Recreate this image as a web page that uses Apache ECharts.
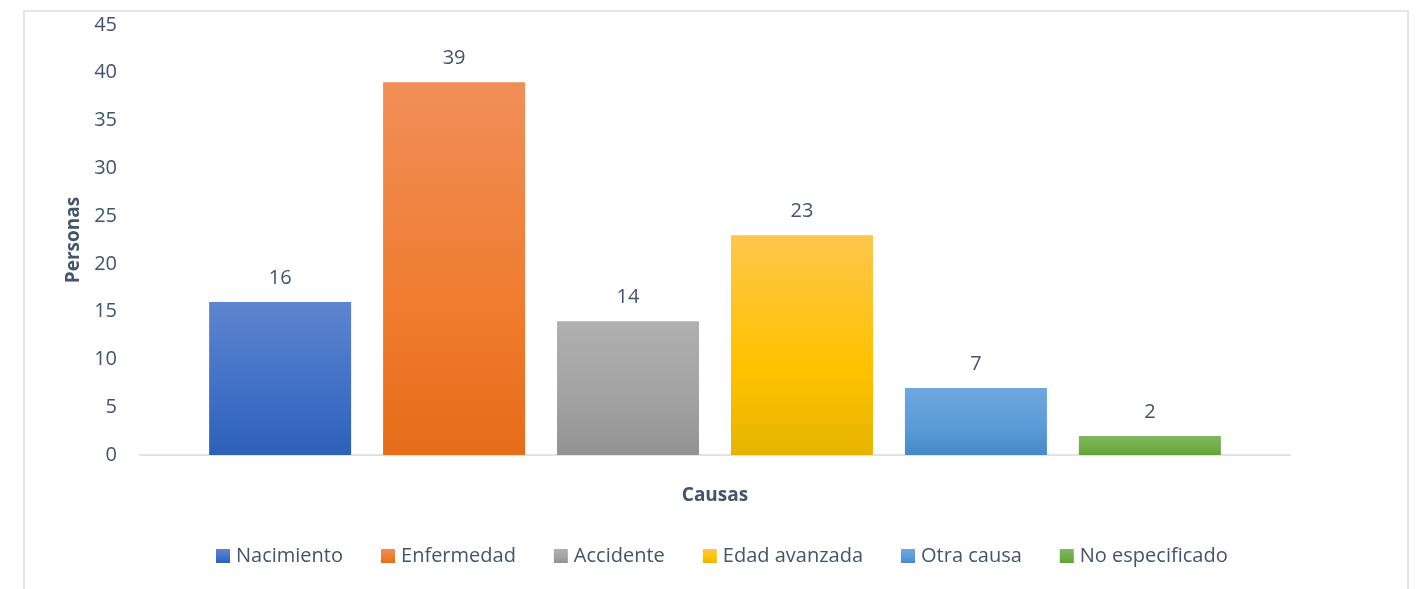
<!DOCTYPE html>
<html>
<head>
<meta charset="utf-8">
<script src="https://cdn.jsdelivr.net/npm/echarts@6/dist/echarts.min.js"></script>
<style>
  html, body { margin: 0; padding: 0; background: #fff; }
  #wrap { position: relative; width: 1417px; height: 589px; overflow: hidden; }
  #frame {
    position: absolute; left: 23px; top: 10px; width: 1386px; height: 600px;
    border: 2px solid #e1e6ec; box-sizing: border-box;
  }
  #chart { position: absolute; left: 0; top: 0; width: 1417px; height: 589px; }
</style>
</head>
<body>
<div id="wrap">
  <div id="frame"></div>
  <div id="chart"></div>
</div>
<script>
// causas (cada una es una serie, como en el original)
const causas = ['Nacimiento', 'Enfermedad', 'Accidente', 'Edad avanzada', 'Otra causa', 'No especificado']
const personas = [16, 39, 14, 23, 7, 2]
const yTicks = [0, 5, 10, 15, 20, 25, 30, 35, 40, 45]

// degradado: claro arriba, color base, más oscuro abajo
const colores = [
  ['#5e85cf', '#3f6fc6', '#2f60b8'],
  ['#f18e58', '#f07c2f', '#e66c18'],
  ['#b0b0b0', '#a2a2a2', '#929292'],
  ['#ffc64c', '#ffc200', '#e6b400'],
  ['#6ea8de', '#5a9ad9', '#4689c8'],
  ['#80b862', '#70ad47', '#62a336']
]

const textColor = '#44546a'
const font = '"Open Sans", "Noto Sans", sans-serif'

const chart = echarts.init(document.getElementById('chart'), null, { renderer: 'canvas' })

chart.setOption({
  backgroundColor: 'transparent',
  animation: false,
  textStyle: { fontFamily: font },
  grid: { left: 140, right: 127, top: 25, bottom: 134 },
  legend: {
    data: causas,
    left: 211,
    top: 541,
    itemWidth: 14,
    itemHeight: 14,
    itemGap: 38,
    icon: 'rect',
    textStyle: { color: textColor, fontSize: 20, fontFamily: font, padding: [0, 0, 0, 1] }
  },
  xAxis: {
    type: 'category',
    data: [''],
    name: 'Causas',
    nameLocation: 'middle',
    nameGap: 31,
    nameTextStyle: { color: textColor, fontSize: 19, fontWeight: 'bold', fontFamily: font },
    axisLine: { lineStyle: { color: '#dfe3e8', width: 2 } },
    axisTick: { show: false },
    axisLabel: { show: false }
  },
  yAxis: {
    type: 'value',
    min: yTicks[0],
    max: yTicks[yTicks.length - 1],
    interval: 5,
    name: 'Personas',
    nameLocation: 'middle',
    nameGap: 57,
    nameTextStyle: { color: textColor, fontSize: 19, fontWeight: 'bold', fontFamily: font },
    axisLine: { show: false },
    axisTick: { show: false },
    splitLine: { show: false },
    axisLabel: { color: textColor, fontSize: 20, margin: 23, fontFamily: font }
  },
  series: causas.map((c, i) => ({
    name: c,
    type: 'bar',
    data: [personas[i]],
    barWidth: 142,
    barGap: '22.5%',
    itemStyle: {
      color: new echarts.graphic.LinearGradient(0, 0, 0, 1, [
        { offset: 0, color: colores[i][0] },
        { offset: 0.6, color: colores[i][1] },
        { offset: 1, color: colores[i][2] }
      ])
    },
    label: {
      show: true,
      position: 'top',
      distance: 14,
      color: textColor,
      fontSize: 20,
      fontFamily: font
    }
  }))
})
</script>
</body>
</html>
